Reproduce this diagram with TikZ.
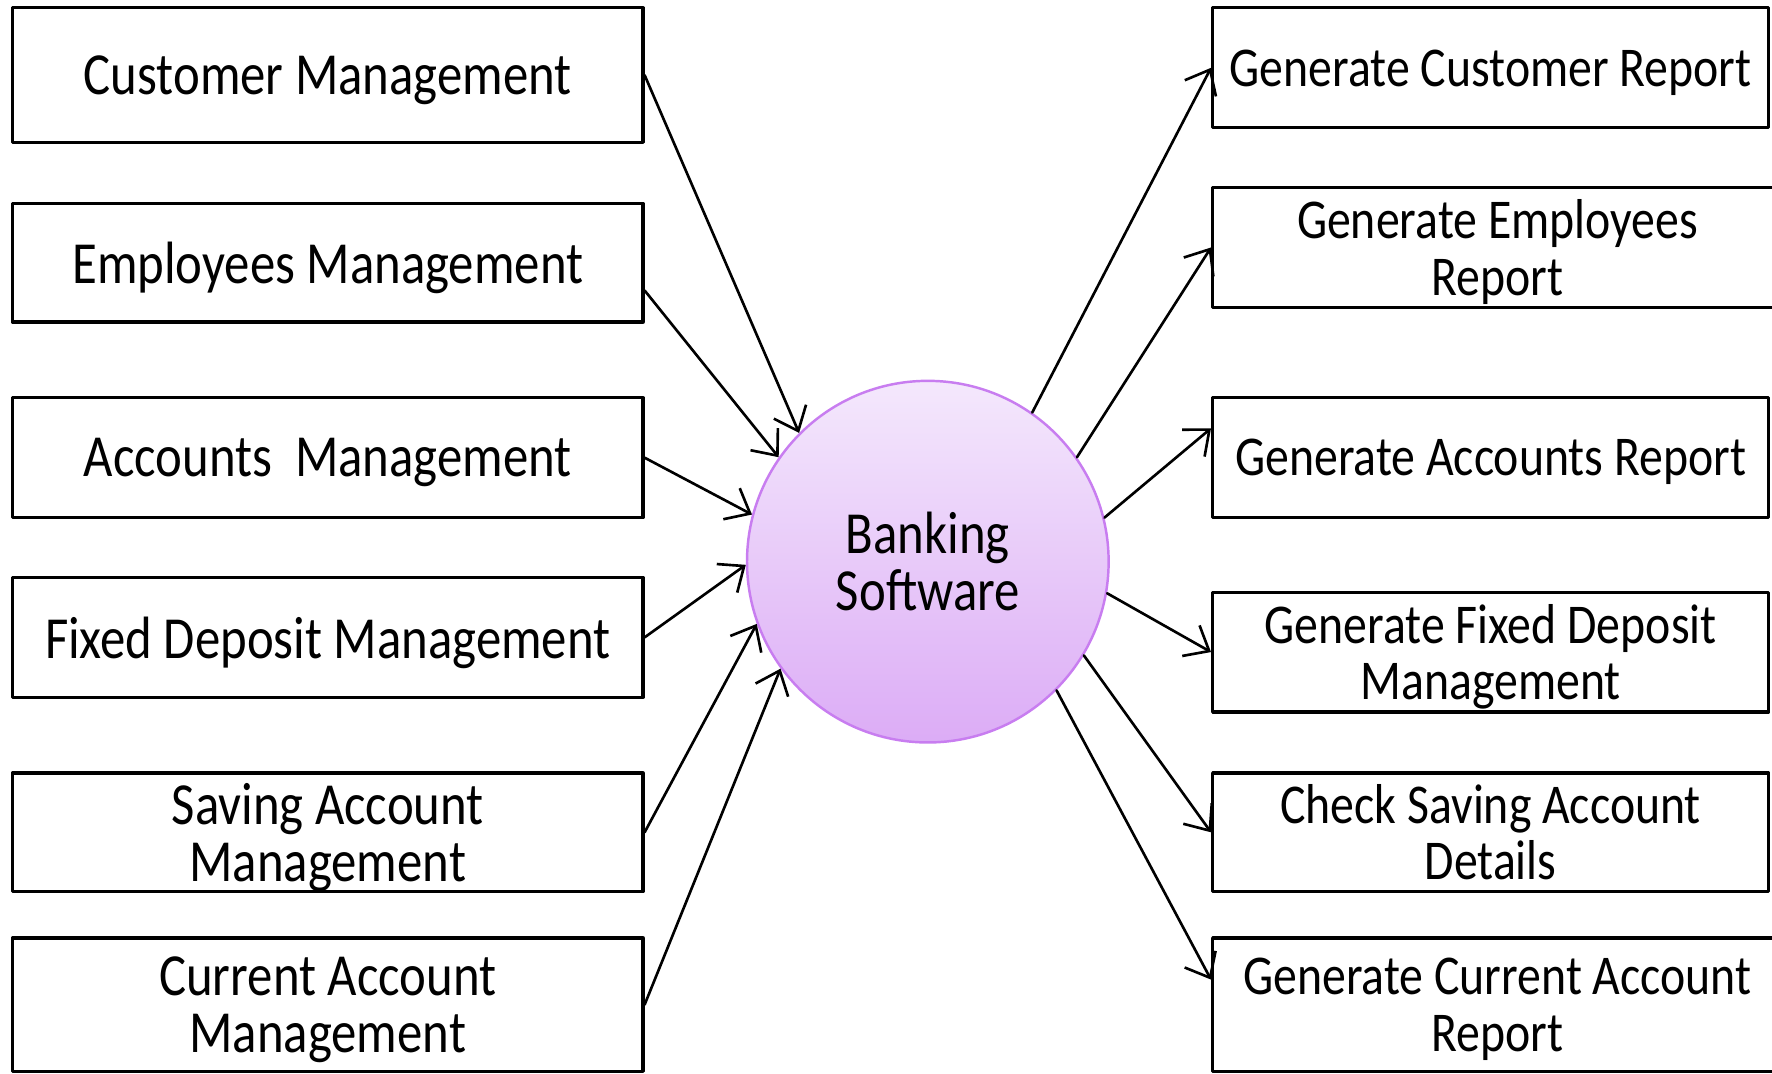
\documentclass[tikz,border=0pt]{standalone}
\usepackage{fontspec}
\setmainfont{Carlito}[FakeStretch=0.85]
\usetikzlibrary{arrows.meta}
\definecolor{lilatop}{RGB}{244,232,252}
\definecolor{lilabot}{RGB}{220,172,246}
\definecolor{lilaline}{RGB}{200,125,240}
\def\px{0.011301cm}
\tikzset{box/.style={draw, line width=0.9pt, align=center, inner sep=0pt, text depth=0pt},
	rbox/.style={box, font=\fontsize{16}{16}\selectfont}}
\begin{document}
\begin{tikzpicture}[x=0.011301cm, y=-0.011301cm, >={Straight Barb[length=6pt,width=10pt]}, line join=round, line cap=round, font=\fontsize{17}{16.2}\selectfont]
			\useasboundingbox (0,0) rectangle (1568,950);
			\node[circle, draw=lilaline, line width=0.7pt, top color=lilatop, bottom color=lilabot, minimum size=320*\px, inner sep=0pt, align=center] (bank) at (821,497) {Banking\\Software};
			\foreach \n/\y/\h/\t in {L1/66.5/119/Customer Management, L2/232.5/105/Employees Management, L3/405/106/Accounts\ \ Management, L4/564/106/Fixed Deposit Management, L5/736.5/105/{Saving Account\\Management}, L6/889/118/{Current Account\\Management}}
			\node[box, minimum width=558*\px, minimum height=\h*\px] (\n) at (290,\y) {\t};
			\foreach \n/\x/\y/\w/\h/\t in {R1/1319/60/492/106/Generate Customer Report, R2/1325/219/504/106/{Generate Employees\\Report}, R3/1319/405/492/106/Generate Accounts Report, R4/1319/577/492/106/{Generate Fixed Deposit\\Management}, R5/1319/736.5/492/105/{Check Saving Account\\Details}, R6/1325/889/504/118/{Generate Current Account\\Report}}
			\node[rbox, minimum width=\w*\px, minimum height=\h*\px] (\n) at (\x,\y) {\t};
			% inputs
			\foreach \a/\b in {L1.east/135, L2.-5/145, L3.east/165, L4.east/181, L5.east/200, L6.east/216}
			\draw[->, line width=0.75pt] (\a) -- (bank.\b);
			% reports
			\foreach \a/\b in {55/R1.west, 35/R2.west, 14/R3.174, -10/R4.west, -31/R5.west, -45/R6.175}
			\draw[->, line width=0.75pt] (bank.\a) -- (\b);
		\end{tikzpicture}
\end{document}
